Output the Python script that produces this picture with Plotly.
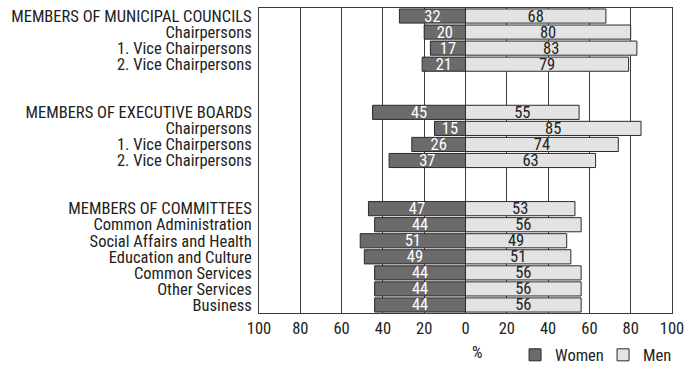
import plotly.graph_objects as go

# ---- data ----
group_headers = ["MEMBERS OF MUNICIPAL COUNCILS", "MEMBERS OF EXECUTIVE BOARDS", "MEMBERS OF COMMITTEES"]
councils_cats = ["Chairpersons", "1. Vice Chairpersons", "2. Vice Chairpersons"]
boards_cats = ["Chairpersons", "1. Vice Chairpersons", "2. Vice Chairpersons"]
committees_cats = ["Common Administration", "Social Affairs and Health", "Education and Culture",
                   "Common Services", "Other Services", "Business"]

councils_women = [32, 20, 17, 21]
councils_men = [68, 80, 83, 79]
boards_women = [45, 15, 26, 37]
boards_men = [55, 85, 74, 63]
committees_women = [47, 44, 51, 49, 44, 44, 44]
committees_men = [53, 56, 49, 51, 56, 56, 56]

x_tick_values = [-100, -80, -60, -40, -20, 0, 20, 40, 60, 80, 100]
x_tick_labels = ["100", "80", "60", "40", "20", "0", "20", "40", "60", "80", "100"]

# ---- build rows (with two blank spacer rows between groups) ----
groups = [
    (group_headers[0], councils_cats, councils_women, councils_men),
    (group_headers[1], boards_cats, boards_women, boards_men),
    (group_headers[2], committees_cats, committees_women, committees_men),
]
labels, women, men = [], [], []
for gi, (hdr, cats, w, m) in enumerate(groups):
    if gi > 0:
        for _ in range(2):
            labels.append("")
            women.append(None)
            men.append(None)
    labels += [hdr] + cats
    women += w
    men += m

ypos = list(range(len(labels)))
women_neg = [(-v if v is not None else None) for v in women]
women_txt = [("" if v is None else str(v)) for v in women]
men_txt = [("" if v is None else str(v)) for v in men]

FONT = "Liberation Sans Narrow, Roboto Condensed, DejaVu Sans Condensed, Arial Narrow, sans-serif"
FS = 16.5

fig = go.Figure()
fig.add_trace(go.Bar(
    y=ypos, x=women_neg, orientation="h", name="Women",
    marker=dict(color="#6b6b6b", line=dict(color="#2a2a2a", width=1)),
    text=women_txt, textposition="inside", insidetextanchor="middle", textangle=0,
    constraintext="none",
    textfont=dict(color="white", size=FS, family=FONT),
    hoverinfo="skip",
))
fig.add_trace(go.Bar(
    y=ypos, x=men, orientation="h", name="Men",
    marker=dict(color="#e3e3e3", line=dict(color="#2a2a2a", width=1)),
    text=men_txt, textposition="inside", insidetextanchor="middle", textangle=0,
    constraintext="none",
    textfont=dict(color="#222222", size=FS, family=FONT),
    hoverinfo="skip",
))

fig.update_layout(
    width=686, height=365,
    barmode="relative", bargap=0.12,
    margin=dict(l=259, r=14, t=8, b=52, autoexpand=False),
    paper_bgcolor="white", plot_bgcolor="white",
    font=dict(family=FONT, size=FS, color="#222222"),
    showlegend=True,
    legend=dict(orientation="h", x=0.62, xanchor="left", y=-0.138, yanchor="middle",
                font=dict(size=FS, family=FONT), tracegroupgap=0,
                itemwidth=30, entrywidth=43, entrywidthmode="pixels",
                bgcolor="rgba(0,0,0,0)"),
)
fig.update_xaxes(
    range=[-100, 100], tickvals=x_tick_values, ticktext=x_tick_labels,
    showgrid=True, gridcolor="#3a3a3a", gridwidth=1, zeroline=False,
    showline=True, linecolor="#3a3a3a", linewidth=1, mirror=True,
    ticks="", tickfont=dict(size=FS, family=FONT), fixedrange=True,
)
fig.update_yaxes(
    range=[len(labels) - 0.5, -0.5], tickvals=ypos, ticktext=labels,
    showgrid=False, zeroline=False, showline=True, linecolor="#3a3a3a", linewidth=1, mirror=True,
    ticks="", ticklabelstandoff=3, tickfont=dict(size=FS, family=FONT), fixedrange=True,
)
fig.add_annotation(text="%", xref="paper", yref="paper", x=0.528, y=-0.128, yanchor="middle",
                   showarrow=False, font=dict(size=FS, family=FONT))

# remove the default 8px page margin so the 686x365 figure fills the window exactly
fig.write_html("out.html", config={"displayModeBar": False},
               post_script="document.body.style.margin='0';document.body.style.overflow='hidden';")
